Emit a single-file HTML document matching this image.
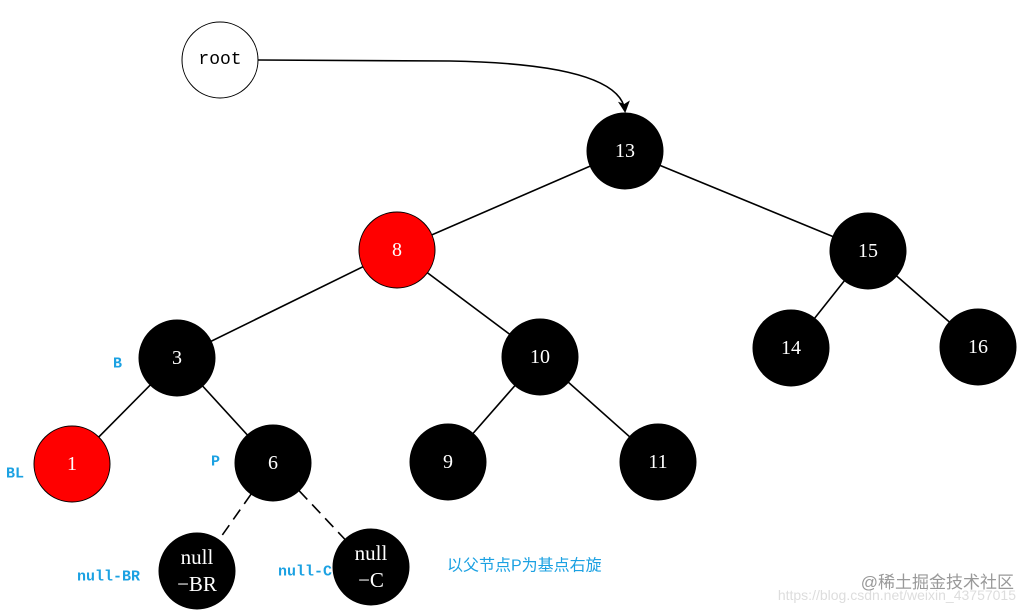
<!DOCTYPE html>
<html><head><meta charset="utf-8"><style>
html,body{margin:0;padding:0;background:#fff;}
svg{display:block}
</style></head><body>
<svg width="1032" height="616" viewBox="0 0 1032 616" xmlns="http://www.w3.org/2000/svg">
<defs><marker id="ah" markerWidth="12" markerHeight="12" refX="10" refY="6" orient="auto" markerUnits="userSpaceOnUse"><path d="M0,0 L12,6 L0,12 L3,6 z" fill="#000"/></marker></defs>
<g stroke="#000" stroke-width="1.6" fill="none">
<path d="M258 60 L450 61 Q620 64 625 111" marker-end="url(#ah)"/>
<line x1="625" y1="151" x2="397" y2="250"/>
<line x1="625" y1="151" x2="868" y2="251"/>
<line x1="397" y1="250" x2="177" y2="358"/>
<line x1="397" y1="250" x2="540" y2="357"/>
<line x1="868" y1="251" x2="791" y2="348"/>
<line x1="868" y1="251" x2="978" y2="347"/>
<line x1="177" y1="358" x2="72" y2="464"/>
<line x1="177" y1="358" x2="273" y2="463"/>
<line x1="540" y1="357" x2="448" y2="462"/>
<line x1="540" y1="357" x2="658" y2="462"/>
<line x1="273" y1="463" x2="197" y2="571" stroke-dasharray="12,7"/>
<line x1="273" y1="463" x2="371" y2="567" stroke-dasharray="12,7"/>
</g>
<g stroke="#000" stroke-width="1">
<circle cx="220" cy="60" r="38" fill="#fff"/>
<circle cx="625" cy="151" r="38" fill="#000"/>
<circle cx="397" cy="250" r="38" fill="#f00"/>
<circle cx="868" cy="251" r="38" fill="#000"/>
<circle cx="177" cy="358" r="38" fill="#000"/>
<circle cx="540" cy="357" r="38" fill="#000"/>
<circle cx="791" cy="348" r="38" fill="#000"/>
<circle cx="978" cy="347" r="38" fill="#000"/>
<circle cx="72" cy="464" r="38" fill="#f00"/>
<circle cx="273" cy="463" r="38" fill="#000"/>
<circle cx="448" cy="462" r="38" fill="#000"/>
<circle cx="658" cy="462" r="38" fill="#000"/>
<circle cx="197" cy="571" r="38" fill="#000"/>
<circle cx="371" cy="567" r="38" fill="#000"/>
</g>
<g font-family="Liberation Serif, serif" font-size="20" fill="#fff" text-anchor="middle" dominant-baseline="central">
<text x="220" y="60" fill="#000" font-family="Liberation Mono, monospace" font-size="18">root</text>
<text x="625" y="151">13</text>
<text x="397" y="250">8</text>
<text x="868" y="251">15</text>
<text x="177" y="358">3</text>
<text x="540" y="357">10</text>
<text x="791" y="348">14</text>
<text x="978" y="347">16</text>
<text x="72" y="464">1</text>
<text x="273" y="463">6</text>
<text x="448" y="462">9</text>
<text x="658" y="462">11</text>
<text x="197" y="557" font-size="21">null</text>
<text x="197" y="584" font-size="21">−BR</text>
<text x="371" y="553" font-size="21">null</text>
<text x="371" y="580" font-size="21">−C</text>
</g>
<g font-family="Liberation Mono, monospace" font-size="15" fill="#1ba1e2" font-weight="bold" dominant-baseline="central">
<text x="113" y="364">B</text>
<text x="6" y="474">BL</text>
<text x="211" y="462">P</text>
<text x="77" y="577">null-BR</text>
<text x="278" y="572">null-C</text>
</g>
<text x="447" y="566" dominant-baseline="central" font-family="Liberation Sans, Noto Sans CJK SC, sans-serif" font-size="16" fill="#1ba1e2">以父节点P为基点右旋</text>
<text x="1016" y="600" text-anchor="end" font-family="Liberation Sans, sans-serif" font-size="14" fill="#ddd">https://blog.csdn.net/weixin_43757015</text>
<text x="1014" y="588" text-anchor="end" font-family="Liberation Sans, Noto Sans CJK SC, sans-serif" font-size="17" fill="#999">@稀土掘金技术社区</text>
</svg>
</body></html>
